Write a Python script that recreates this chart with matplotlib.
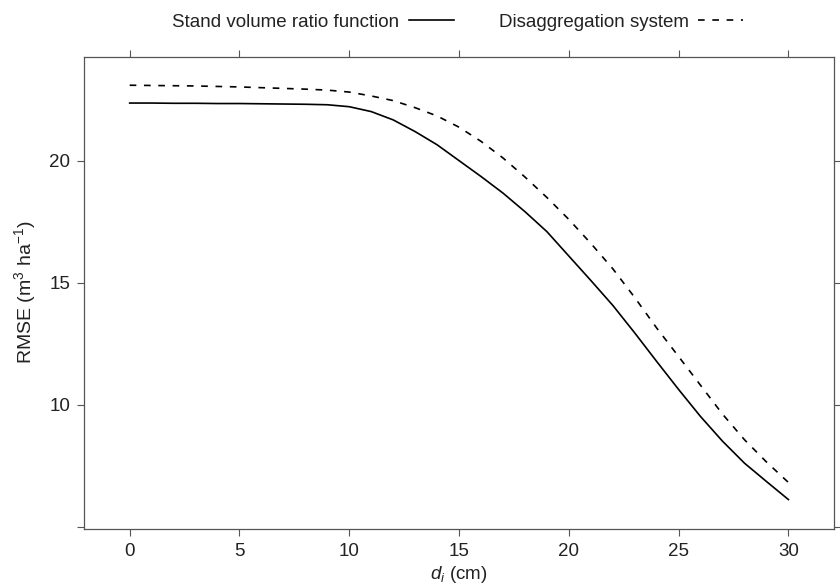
import numpy as np
import matplotlib
matplotlib.use("Agg")
import matplotlib.pyplot as plt
from matplotlib.lines import Line2D

plt.rcParams['font.family'] = ['Liberation Sans', 'DejaVu Sans']
plt.rcParams['mathtext.fontset'] = 'custom'
plt.rcParams['mathtext.rm'] = 'Liberation Sans'
plt.rcParams['mathtext.it'] = 'Liberation Sans:italic'
plt.rcParams['lines.scale_dashes'] = False

d_i = [0, 1, 2, 3, 4, 5, 6, 7, 8, 9, 10, 11, 12, 13, 14, 15,
       16, 17, 18, 19, 20, 21, 22, 23, 24, 25, 26, 27, 28, 29, 30]
svr = [22.37, 22.37, 22.36, 22.36, 22.35, 22.35, 22.34, 22.33, 22.32, 22.30,
       22.22, 22.02, 21.68, 21.20, 20.66, 20.01, 19.36, 18.68, 17.92, 17.10,
       16.10, 15.10, 14.08, 12.95, 11.78, 10.63, 9.52, 8.51, 7.61, 6.86, 6.12]
disagg = [23.10, 23.09, 23.08, 23.07, 23.05, 23.03, 23.00, 22.97, 22.94, 22.90,
          22.82, 22.66, 22.47, 22.18, 21.84, 21.38, 20.80, 20.12, 19.34, 18.50,
          17.60, 16.62, 15.58, 14.40, 13.15, 11.98, 10.80, 9.62, 8.57, 7.66, 6.82]
xticks = [0, 5, 10, 15, 20, 25, 30]
yticks = [5, 10, 15, 20]
ytick_labels = ['', '10', '15', '20']

fs = 13.5
fig = plt.figure(figsize=(8.4, 5.88), dpi=100)
ax = fig.add_axes([0.1, 0.101, 0.893, 0.8026])

ax.plot(d_i, svr, color='black', lw=1.2)
ax.plot(d_i, disagg, color='black', lw=1.2, dashes=(4.8, 5.5))

ax.set_xlim(-2.08, 32.08)
ax.set_ylim(4.93, 24.27)
ax.set_xticks(xticks)
ax.set_yticks(yticks)
ax.set_yticklabels(ytick_labels)
ax.tick_params(direction='out', length=5, width=0.8, color='#555555',
               labelsize=fs, pad=5, top=True, right=True,
               labeltop=False, labelright=False, labelcolor='#222222')
for s in ax.spines.values():
    s.set_color('#555555')
    s.set_linewidth(0.9)

ax.set_xlabel(r'$d_i$ (cm)', fontsize=fs, labelpad=3, color='#222222')
ax.set_ylabel(r'RMSE (m$^{3}$ ha$^{-1}$)', fontsize=fs + 0.5, labelpad=8,
              color='#222222')

handles = [Line2D([], [], color='black', lw=1.2),
           Line2D([], [], color='black', lw=1.2, dashes=(4.8, 5.5))]
fig.legend(handles, ['Stand volume ratio function', 'Disaggregation system'],
           loc='center', bbox_to_anchor=(0.545, 0.962), ncol=2, frameon=False,
           markerfirst=False, handlelength=2.4, columnspacing=2.4,
           handletextpad=0.5, fontsize=fs, labelcolor='#222222')

fig.savefig('out.png', dpi=100)
